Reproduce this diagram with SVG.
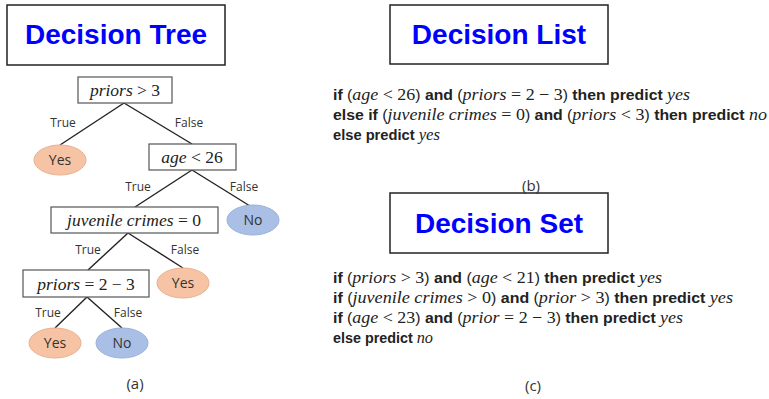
<svg xmlns="http://www.w3.org/2000/svg" width="769" height="399" viewBox="0 0 769 399">
<style>
.title{font-family:"Liberation Sans",Arial,sans-serif;font-weight:bold;font-size:28px;fill:#0000ff;text-anchor:middle}
.tbox{fill:#fff;stroke:#222;stroke-width:1.5}
.nbox{fill:#fff;stroke:#555;stroke-width:1.2}
.math{font-family:"Liberation Serif","Times New Roman",serif;font-size:17.5px;fill:#222;text-anchor:middle}
.it{font-style:italic}
.yes{fill:#f6c4a4;stroke:#e9b08f;stroke-width:1}
.no{fill:#a9bfe6;stroke:#98b0da;stroke-width:1}
.lbl{font-family:"Open Sans","Liberation Sans",sans-serif;font-size:12px;fill:#333;text-anchor:middle}
.leaf{font-family:"Open Sans","Liberation Sans",sans-serif;font-size:14px;fill:#333;text-anchor:middle}
.edge{stroke:#222;stroke-width:1.4;fill:none}
.rule{font-family:"Liberation Sans",Arial,sans-serif;font-size:14.5px;fill:#222}
.b{font-weight:bold}
.m{font-family:"Liberation Serif","Times New Roman",serif;font-size:16.5px;font-weight:normal}
.cap{font-family:"Open Sans","Liberation Sans",sans-serif;font-size:15px;fill:#333;text-anchor:middle}
</style>

<g id="title-tree"><rect class="tbox" x="7" y="5" width="218" height="60"/><text class="title" x="116" y="44">Decision Tree</text></g>
<g id="title-list"><rect class="tbox" x="390" y="5" width="218" height="59"/><text class="title" x="499" y="44">Decision List</text></g>
<g id="title-set"><rect class="tbox" x="390" y="193" width="218" height="60"/><text class="title" x="499" y="233">Decision Set</text></g>

<g id="connectors">
<line class="edge" x1="124" y1="103" x2="60" y2="145"/>
<line class="edge" x1="124" y1="103" x2="192" y2="144"/>
<line class="edge" x1="192" y1="170" x2="135" y2="207"/>
<line class="edge" x1="192" y1="170" x2="250" y2="206"/>
<line class="edge" x1="128" y1="233" x2="88" y2="270"/>
<line class="edge" x1="128" y1="233" x2="183" y2="268"/>
<line class="edge" x1="87" y1="297" x2="55" y2="328"/>
<line class="edge" x1="87" y1="297" x2="122" y2="328"/>
<text class="lbl" x="63" y="127">True</text>
<text class="lbl" x="189" y="127">False</text>
<text class="lbl" x="138" y="191">True</text>
<text class="lbl" x="244" y="191">False</text>
<text class="lbl" x="88" y="254">True</text>
<text class="lbl" x="185" y="254">False</text>
<text class="lbl" x="48" y="317">True</text>
<text class="lbl" x="128" y="317">False</text>
</g>

<g id="n-priors3"><rect class="nbox" x="78" y="77" width="94" height="26"/><text class="math" x="125" y="96"><tspan class="it">priors</tspan> &gt; 3</text></g>
<g id="n-yes1"><ellipse class="yes" cx="60" cy="160" rx="26" ry="15"/><text class="leaf" x="60" y="165">Yes</text></g>
<g id="n-age26"><rect class="nbox" x="149" y="144" width="87" height="26"/><text class="math" x="192" y="163"><tspan class="it">age</tspan> &lt; 26</text></g>
<g id="n-no1"><ellipse class="no" cx="253" cy="220" rx="26" ry="15"/><text class="leaf" x="253" y="225">No</text></g>
<g id="n-juvenile"><rect class="nbox" x="51" y="207" width="167" height="26"/><text class="math" x="134" y="226"><tspan class="it">juvenile crimes</tspan> = 0</text></g>
<g id="n-yes2"><ellipse class="yes" cx="183" cy="283" rx="26" ry="15"/><text class="leaf" x="183" y="288">Yes</text></g>
<g id="n-priors23"><rect class="nbox" x="23" y="270" width="126" height="27"/><text class="math" x="86" y="290"><tspan class="it">priors</tspan> = 2 − 3</text></g>
<g id="n-yes3"><ellipse class="yes" cx="55" cy="343" rx="26" ry="15"/><text class="leaf" x="55" y="348">Yes</text></g>
<g id="n-no2"><ellipse class="no" cx="122" cy="343" rx="26" ry="15"/><text class="leaf" x="122" y="348">No</text></g>
<text class="cap" x="135" y="389">(a)</text>

<g id="list">
<text class="rule" x="333" y="100" textLength="357" lengthAdjust="spacingAndGlyphs"><tspan class="b">if</tspan> (<tspan class="m it">age</tspan><tspan class="m"> &lt; 26</tspan>) <tspan class="b">and</tspan> (<tspan class="m it">priors</tspan><tspan class="m"> = 2 − 3</tspan>) <tspan class="b">then predict</tspan> <tspan class="m it">yes</tspan></text>
<text class="rule" x="333" y="120" textLength="434" lengthAdjust="spacingAndGlyphs"><tspan class="b">else if</tspan> (<tspan class="m it">juvenile crimes</tspan><tspan class="m"> = 0</tspan>) <tspan class="b">and</tspan> (<tspan class="m it">priors</tspan><tspan class="m"> &lt; 3</tspan>) <tspan class="b">then predict</tspan> <tspan class="m it">no</tspan></text>
<text class="rule" x="333" y="140" textLength="107" lengthAdjust="spacingAndGlyphs"><tspan class="b">else predict</tspan> <tspan class="m it">yes</tspan></text>
<text class="cap" x="531" y="191">(b)</text>
</g>

<g id="set">
<text class="rule" x="333" y="283" textLength="329" lengthAdjust="spacingAndGlyphs"><tspan class="b">if</tspan> (<tspan class="m it">priors</tspan><tspan class="m"> &gt; 3</tspan>) <tspan class="b">and</tspan> (<tspan class="m it">age</tspan><tspan class="m"> &lt; 21</tspan>) <tspan class="b">then predict</tspan> <tspan class="m it">yes</tspan></text>
<text class="rule" x="333" y="303" textLength="400" lengthAdjust="spacingAndGlyphs"><tspan class="b">if</tspan> (<tspan class="m it">juvenile crimes</tspan><tspan class="m"> &gt; 0</tspan>) <tspan class="b">and</tspan> (<tspan class="m it">prior</tspan><tspan class="m"> &gt; 3</tspan>) <tspan class="b">then predict</tspan> <tspan class="m it">yes</tspan></text>
<text class="rule" x="333" y="323" textLength="350" lengthAdjust="spacingAndGlyphs"><tspan class="b">if</tspan> (<tspan class="m it">age</tspan><tspan class="m"> &lt; 23</tspan>) <tspan class="b">and</tspan> (<tspan class="m it">prior</tspan><tspan class="m"> = 2 − 3</tspan>) <tspan class="b">then predict</tspan> <tspan class="m it">yes</tspan></text>
<text class="rule" x="333" y="343" textLength="100" lengthAdjust="spacingAndGlyphs"><tspan class="b">else predict</tspan> <tspan class="m it">no</tspan></text>
<text class="cap" x="533" y="391">(c)</text>
</g>
</svg>
